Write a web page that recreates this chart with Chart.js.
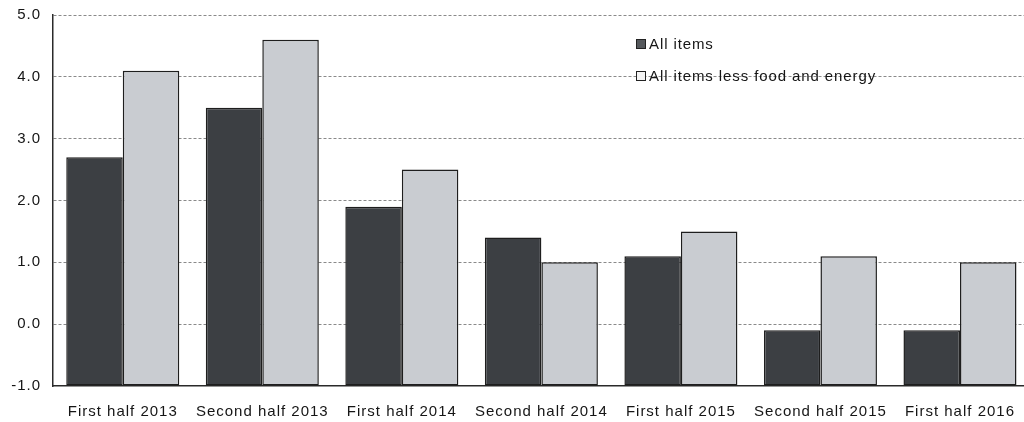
<!DOCTYPE html>
<html>
<head>
<meta charset="utf-8">
<script src="https://cdn.jsdelivr.net/npm/chart.js@4"></script>
<style>
  html, body { margin: 0; padding: 0; background: #fff; overflow: hidden; }
  .wrap { position: relative; width: 1024px; height: 422px; overflow: hidden; }
  .legend { position: absolute; left: 636px; top: 35px; font: 15px "Liberation Sans", Arial, sans-serif; letter-spacing: 0.9px; color: #151515; }
  .legend div { height: 32px; line-height: 18px; white-space: nowrap; }
  .legend span.box { display: inline-block; width: 8px; height: 8px; border: 1px solid #222; margin-right: 3px; vertical-align: 0px; }
</style>
</head>
<body>
<div class="wrap">
  <canvas id="chart" width="1032" height="422"></canvas>
  <div class="legend" id="legend"></div>
</div>
<script>
const categories = ['First half 2013', 'Second half 2013', 'First half 2014', 'Second half 2014', 'First half 2015', 'Second half 2015', 'First half 2016'];
const allItems = [2.7, 3.5, 1.9, 1.4, 1.1, -0.1, -0.1];
const lessFoodEnergy = [4.1, 4.6, 2.5, 1.0, 1.5, 1.1, 1.0];
const seriesNames = ['All items', 'All items less food and energy'];
const seriesColors = ['#3c3f43', '#c9ccd1'];
const legendColors = ['#55585c', '#f4f4f4'];

const font = { family: '"Liberation Sans", Arial, sans-serif', size: 15 };

// the scanned chart has loosely spaced lettering
const spacing = {
  id: 'spacing',
  beforeLayout: (c) => { c.ctx.letterSpacing = '1px'; },
  beforeDraw: (c) => { c.ctx.letterSpacing = '1px'; },
};

const chart = new Chart(document.getElementById('chart'), {
  type: 'bar',
  data: {
    labels: categories,
    datasets: [
      { label: seriesNames[0], data: allItems, backgroundColor: seriesColors[0] },
      { label: seriesNames[1], data: lessFoodEnergy, backgroundColor: seriesColors[1] },
    ],
  },
  plugins: [spacing],
  options: {
    responsive: false,
    animation: false,
    layout: { autoPadding: false, padding: { left: 0, right: 0, top: 15, bottom: 0 } },
    datasets: {
      bar: {
        base: -1,
        borderColor: '#1e1e1e',
        borderWidth: 1.5,
        borderSkipped: false,
        categoryPercentage: 0.81,
        barPercentage: 1.0,
      },
    },
    plugins: {
      legend: { display: false },
      tooltip: { enabled: false },
    },
    scales: {
      x: {
        grid: { display: false, drawTicks: false },
        border: { display: true, color: '#2a2a2a', width: 1.5 },
        ticks: { color: '#151515', font: font, padding: 17, maxRotation: 0 },
        afterFit: (scale) => { scale.height = 36; },
      },
      y: {
        min: -1,
        max: 5,
        ticks: {
          stepSize: 1,
          color: '#151515',
          font: font,
          padding: 12,
          callback: (v) => v.toFixed(1),
        },
        grid: {
          drawTicks: false,
          color: (ctx) => ctx.tick && ctx.tick.value === -1 ? 'rgba(0,0,0,0)' : '#8a8a8a',
          lineWidth: 1,
        },
        border: { display: true, color: '#2a2a2a', width: 1.5, dash: [3, 2] },
        afterFit: (scale) => {
          scale.width = 53;
          scale.paddingTop = 0;
          scale.paddingBottom = 0;
        },
      },
    },
  },
});

const legend = document.getElementById('legend');
seriesNames.forEach((name, i) => {
  const row = document.createElement('div');
  const box = document.createElement('span');
  box.className = 'box';
  box.style.background = legendColors[i];
  row.append(box, document.createTextNode(name));
  legend.append(row);
});
</script>
</body>
</html>
